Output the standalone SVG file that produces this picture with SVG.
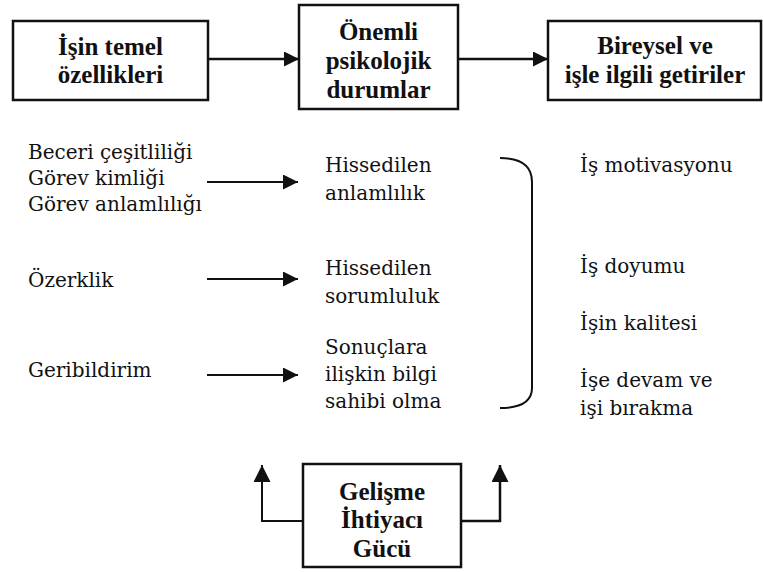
<svg xmlns="http://www.w3.org/2000/svg" width="763" height="572" viewBox="0 0 763 572">
<style>
.box{fill:#fff;stroke:#111;stroke-width:2.5}
.b{font-family:'Liberation Serif','DejaVu Serif',serif;font-weight:bold;font-size:25px;fill:#111;text-anchor:middle}
.t{font-family:'DejaVu Serif','Liberation Serif',serif;font-size:20px;fill:#111}
.c{fill:none;stroke:#111}
</style>
<defs>
<marker id="ah" viewBox="0 0 10 10" refX="10" refY="5" markerWidth="15" markerHeight="15" markerUnits="userSpaceOnUse" orient="auto">
<path d="M0,0 L10,5 L0,10 Z" fill="#111"/>
</marker>
<marker id="ah2" viewBox="0 0 10 10" refX="10" refY="5" markerWidth="17" markerHeight="17" markerUnits="userSpaceOnUse" orient="auto">
<path d="M0,0 L10,5 L0,10 Z" fill="#111"/>
</marker>
</defs>
<rect width="763" height="572" fill="#fff"/>
<g id="connectors">
<line class="c" x1="208" y1="59" x2="299" y2="59" stroke-width="2.5" marker-end="url(#ah)"/>
<line class="c" x1="458" y1="59" x2="548" y2="59" stroke-width="2.5" marker-end="url(#ah)"/>
<line class="c" x1="207" y1="182" x2="298" y2="182" stroke-width="2" marker-end="url(#ah)"/>
<line class="c" x1="207" y1="279" x2="298" y2="279" stroke-width="2" marker-end="url(#ah)"/>
<line class="c" x1="207" y1="375" x2="298" y2="375" stroke-width="2" marker-end="url(#ah)"/>
<path class="c" d="M303,521 L262,521 L262,465" stroke-width="2" marker-end="url(#ah2)"/>
<path class="c" d="M461,521 L500,521 L500,465" stroke-width="2.5" marker-end="url(#ah2)"/>
<path class="c" d="M500,158 C522,158 532,166 532,182 L532,388 C532,401 522,408 500,408" stroke-width="2"/>
</g>
<g id="node-isin-temel">
<rect class="box" x="13" y="21" width="195" height="79"/>
<text class="b" x="110.5" y="55">İşin temel</text>
<text class="b" x="110.5" y="83">özellikleri</text>
</g>
<g id="node-onemli">
<rect class="box" x="299" y="5" width="159" height="104"/>
<text class="b" x="378.5" y="40">Önemli</text>
<text class="b" x="378.5" y="69">psikolojik</text>
<text class="b" x="378.5" y="98">durumlar</text>
</g>
<g id="node-bireysel">
<rect class="box" x="548" y="21" width="213" height="79"/>
<text class="b" x="655" y="54">Bireysel ve</text>
<text class="b" x="655" y="83">işle ilgili getiriler</text>
</g>
<g id="node-gelisme">
<rect class="box" x="303" y="464" width="158" height="103"/>
<text class="b" x="382" y="500">Gelişme</text>
<text class="b" x="382" y="528">İhtiyacı</text>
<text class="b" x="382" y="557">Gücü</text>
</g>
<g id="left-items">
<text class="t" x="28" y="159">Beceri çeşitliliği</text>
<text class="t" x="28" y="185">Görev kimliği</text>
<text class="t" x="28" y="211">Görev anlamlılığı</text>
<text class="t" x="28" y="287">Özerklik</text>
<text class="t" x="28" y="377">Geribildirim</text>
</g>
<g id="middle-items">
<text class="t" x="325" y="172">Hissedilen</text>
<text class="t" x="325" y="200">anlamlılık</text>
<text class="t" x="325" y="275">Hissedilen</text>
<text class="t" x="325" y="303">sorumluluk</text>
<text class="t" x="325" y="354">Sonuçlara</text>
<text class="t" x="325" y="381">ilişkin bilgi</text>
<text class="t" x="325" y="408">sahibi olma</text>
</g>
<g id="right-items">
<text class="t" x="580" y="172">İş motivasyonu</text>
<text class="t" x="580" y="273">İş doyumu</text>
<text class="t" x="580" y="330">İşin kalitesi</text>
<text class="t" x="580" y="387">İşe devam ve</text>
<text class="t" x="580" y="415">işi bırakma</text>
</g>
</svg>
